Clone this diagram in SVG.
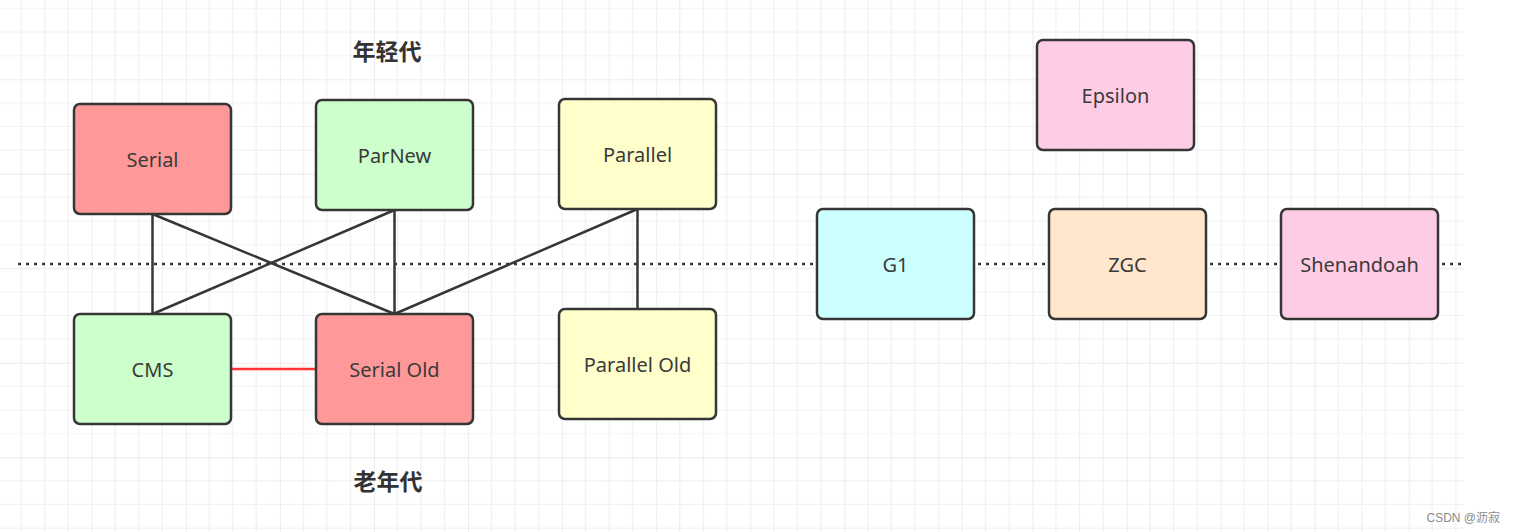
<svg xmlns="http://www.w3.org/2000/svg" width="1514" height="532" viewBox="0 0 1514 532">
<style>
.node rect{stroke:#363636;stroke-width:2.5}
.node text{font-family:"Noto Sans","Liberation Sans",sans-serif;font-size:20px;fill:#3a3a3a;text-anchor:middle;dominant-baseline:central}
.edge{stroke:#363636;stroke-width:2.5;fill:none}
.title{font-family:"Noto Sans CJK SC","Noto Sans",sans-serif;font-size:23px;font-weight:bold;fill:#333;text-anchor:middle;dominant-baseline:central}
</style>
<defs>
<pattern id="grid" patternUnits="userSpaceOnUse" x="-2.38" y="-15.2" width="94.08" height="94.48">
<path d="M23.52 0V94.48M47.04 0V94.48M70.56 0V94.48M0 23.62H94.08M0 47.24H94.08M0 70.86H94.08" stroke="#f0f0f0" stroke-width="1.2" fill="none"/>
<path d="M0 0V94.48M0 0H94.08" stroke="#e6e6e6" stroke-width="1.4" fill="none"/>
</pattern>
</defs>
<rect width="1514" height="532" fill="#fff"/>
<rect x="0" y="0" width="1464" height="532" fill="url(#grid)"/>
<g id="connectors">
<line class="edge" x1="18" y1="264" x2="1464" y2="264" stroke-dasharray="3 5"/>
<line class="edge" x1="152.5" y1="214" x2="152.5" y2="314"/>
<line class="edge" x1="152.5" y1="214" x2="394.5" y2="314"/>
<line class="edge" x1="394.5" y1="210" x2="152.5" y2="314"/>
<line class="edge" x1="394.5" y1="210" x2="394.5" y2="314"/>
<line class="edge" x1="637.5" y1="209" x2="394.5" y2="314"/>
<line class="edge" x1="637.5" y1="209" x2="637.5" y2="309"/>
<line x1="231" y1="369" x2="316" y2="369" stroke="#ff3333" stroke-width="2.5"/>
</g>
<text class="title" x="387" y="50">年轻代</text>
<text class="title" x="388" y="480">老年代</text>
<g id="serial" class="node"><rect x="74" y="104" width="157" height="110" rx="6" fill="#ff9999"/><text x="152.5" y="159">Serial</text></g>
<g id="parnew" class="node"><rect x="316" y="100" width="157" height="110" rx="6" fill="#ccffcc"/><text x="394.5" y="155">ParNew</text></g>
<g id="parallel" class="node"><rect x="559" y="99" width="157" height="110" rx="6" fill="#ffffcc"/><text x="637.5" y="154">Parallel</text></g>
<g id="cms" class="node"><rect x="74" y="314" width="157" height="110" rx="6" fill="#ccffcc"/><text x="152.5" y="369">CMS</text></g>
<g id="serialold" class="node"><rect x="316" y="314" width="157" height="110" rx="6" fill="#ff9999"/><text x="394.5" y="369">Serial Old</text></g>
<g id="parallelold" class="node"><rect x="559" y="309" width="157" height="110" rx="6" fill="#ffffcc"/><text x="637.5" y="364">Parallel Old</text></g>
<g id="g1" class="node"><rect x="817" y="209" width="157" height="110" rx="6" fill="#ccffff"/><text x="895.5" y="264">G1</text></g>
<g id="zgc" class="node"><rect x="1049" y="209" width="157" height="110" rx="6" fill="#ffe6cc"/><text x="1127.5" y="264">ZGC</text></g>
<g id="shenandoah" class="node"><rect x="1281" y="209" width="157" height="110" rx="6" fill="#ffcce6"/><text x="1359.5" y="264">Shenandoah</text></g>
<g id="epsilon" class="node"><rect x="1037" y="40" width="157" height="110" rx="6" fill="#ffcce6"/><text x="1115.5" y="95">Epsilon</text></g>
<text x="1500" y="518" font-family="'Liberation Sans','Noto Sans CJK SC',sans-serif" font-size="12" fill="#8a8a8a" text-anchor="end" dominant-baseline="central">CSDN @沥寂</text>
</svg>
